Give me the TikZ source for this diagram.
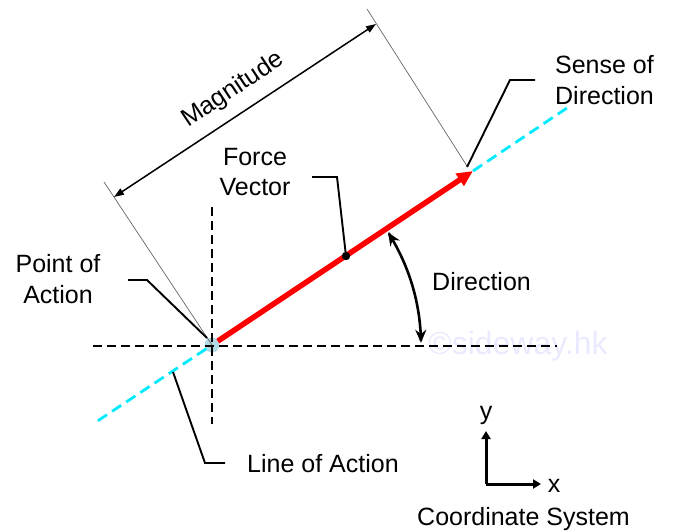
\documentclass[tikz,border=0pt]{standalone}
\usepackage{fontspec}
\setmainfont{Liberation Sans}
\usetikzlibrary{arrows.meta}
\definecolor{redv}{RGB}{255,0,0}
\definecolor{cyanl}{RGB}{0,235,255}
\definecolor{ptblue}{RGB}{178,218,226}
\definecolor{wmark}{RGB}{234,234,255}
\begin{document}
\begin{tikzpicture}[x=1pt,y=-1pt,
  lbl/.style={font=\fontsize{25}{30.5}\selectfont, inner sep=0pt, align=center},
  leader/.style={line width=1.9pt, black},
  ext/.style={line width=0.7pt, black!60},
  bdash/.style={line width=2.8pt, dash pattern=on 9.3pt off 4.7pt},
  cdash/.style={line width=2.8pt, cyanl, dash pattern=on 11pt off 6pt},
  dimarrow/.style={line width=1.5pt, {Triangle[length=10pt,width=7pt]}-{Triangle[length=10pt,width=7pt]}},
  angarrow/.style={line width=2.6pt, {Stealth[length=13pt,width=11pt]}-{Stealth[length=13pt,width=11pt]}},
  axarrow/.style={line width=3pt, -{Triangle[length=8pt,width=9pt]}}]
\useasboundingbox (0,0) rectangle (674,532);
% watermark
\node[font=\fontsize{32}{36}\selectfont, text=wmark, inner sep=0pt, anchor=base west] (wm) at (428,354) {©sideway.hk};
% key coordinates
\coordinate (P) at (212,345);
\coordinate (T) at (473,171);
\coordinate (C1) at (567,108);
\coordinate (C2) at (93,424);
\coordinate (H1) at (93,346);
\coordinate (H2) at (557,346);
\coordinate (V1) at (212,207);
\coordinate (V2) at (212,424);
% point of action
\fill[ptblue] (P) circle (7.5);
% line of action
\draw[cdash] (T) -- (C1);
\draw[cdash, shorten <=7pt] (P) -- (C2);
% reference axes
\draw[bdash] (H1) -- (H2);
\draw[bdash] (V1) -- (V2);
% force vector
\draw[redv, line width=5.5pt, -{Triangle[length=16pt,width=14pt]}, shorten <=7pt] (P) -- (T);
% magnitude dimension
\coordinate (E1) at (104,182);
\coordinate (E2a) at (367,9);
\coordinate (E2b) at (467,166);
\coordinate (M1) at (114,197);
\coordinate (M2) at (376,24);
\draw[ext] (E1) -- (P);
\draw[ext] (E2a) -- (E2b);
\draw[dimarrow] (M1) -- (M2);
\node[lbl, rotate=33.7] (mag) at (233,90) {Magnitude};
% force vector label
\coordinate (D) at (346,256);
\fill (D) circle (4.2);
\node[lbl] (fv) at (255,172) {Force\\Vector};
\draw[leader] (312,177) -- (337,177) -- (D);
% sense of direction
\node[lbl] (sd) at (604.5,80) {Sense of\\Direction};
\draw[leader] (535,80) -- (510,80) -- (467,167);
% point of action label
\node[lbl] (pa) at (58,279) {Point of\\Action};
\draw[leader] (128,280) -- (147,280) -- (207,338);
% line of action label
\node[lbl, anchor=base west] (la) at (247,472) {Line of Action};
\draw[leader] (173,372) -- (205,463) -- (225,463);
% direction angle
\draw[angarrow] plot[domain=32.6:0.6, samples=40, smooth] ({212+209*cos(\x)},{345-209*sin(\x)});
\node[lbl, anchor=base west] (dir) at (432,290) {Direction};
% coordinate system
\coordinate (O) at (486,484);
\coordinate (Ay) at (486,431);
\coordinate (Ax) at (541,484);
\draw[axarrow] (O) -- (Ay);
\draw[axarrow] (O) -- (Ax);
\node[lbl, anchor=base] (ylab) at (486,419) {y};
\node[lbl, anchor=base] (xlab) at (554,492) {x};
\node[lbl, anchor=base west] (cs) at (417,525) {Coordinate System};
\end{tikzpicture}
\end{document}
